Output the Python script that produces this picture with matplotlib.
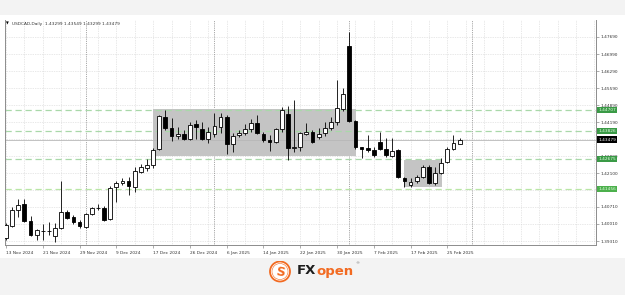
import matplotlib
matplotlib.use("Agg")
import matplotlib.pyplot as plt
import matplotlib.transforms as mtransforms
from matplotlib.patches import Rectangle, Circle
import numpy as np
import pandas as pd

# ---------------- data ----------------
dates = [
    "2024-11-13", "2024-11-14", "2024-11-15", "2024-11-18", "2024-11-19", "2024-11-20",
    "2024-11-21", "2024-11-22", "2024-11-25", "2024-11-26", "2024-11-27", "2024-11-28",
    "2024-11-29",
    "2024-12-02", "2024-12-03", "2024-12-04", "2024-12-05", "2024-12-06", "2024-12-09",
    "2024-12-10", "2024-12-11", "2024-12-12", "2024-12-13", "2024-12-16", "2024-12-17",
    "2024-12-18", "2024-12-19", "2024-12-20", "2024-12-23", "2024-12-24", "2024-12-26",
    "2024-12-27", "2024-12-30", "2024-12-31",
    "2025-01-02", "2025-01-03", "2025-01-06", "2025-01-07", "2025-01-08", "2025-01-09",
    "2025-01-10", "2025-01-13", "2025-01-14", "2025-01-15", "2025-01-16", "2025-01-17",
    "2025-01-20", "2025-01-21", "2025-01-22", "2025-01-23", "2025-01-24", "2025-01-27",
    "2025-01-28", "2025-01-29", "2025-01-30", "2025-01-31",
    "2025-02-03", "2025-02-04", "2025-02-05", "2025-02-06", "2025-02-07", "2025-02-10",
    "2025-02-11", "2025-02-12", "2025-02-13", "2025-02-14", "2025-02-17", "2025-02-18",
    "2025-02-19", "2025-02-20", "2025-02-21", "2025-02-24", "2025-02-25", "2025-02-26",
    "2025-02-27",
]

opens = [1.3943, 1.3992, 1.4058, 1.4083, 1.4013, 1.3955, 1.3974, 1.3972, 1.3951, 1.3984,
         1.4050, 1.4029, 1.4009, 1.3988, 1.4042, 1.4066, 1.4066, 1.4021, 1.4153, 1.4169,
         1.4177, 1.4153, 1.4214, 1.4231, 1.4243, 1.4309, 1.4440, 1.4395, 1.4362, 1.4370,
         1.4350, 1.4411, 1.4391, 1.4350, 1.4370, 1.4399, 1.4440, 1.4329, 1.4366, 1.4374,
         1.4391, 1.4415, 1.4370, 1.4346, 1.4337, 1.4391, 1.4452, 1.4315, 1.4317, 1.4370,
         1.4379, 1.4358, 1.4374, 1.4395, 1.4420, 1.4473, 1.4732, 1.4424, 1.4317, 1.4313,
         1.4305, 1.4337, 1.4309, 1.4280, 1.4305, 1.4189, 1.4161, 1.4177, 1.4194, 1.4235,
         1.4169, 1.4210, 1.4255, 1.4309, 1.43299]
highs = [1.4005, 1.4070, 1.4103, 1.4103, 1.4033, 1.3980, 1.4000, 1.4009, 1.4005, 1.4177,
         1.4058, 1.4037, 1.4017, 1.4046, 1.4070, 1.4083, 1.4074, 1.4157, 1.4177, 1.4189,
         1.4194, 1.4235, 1.4247, 1.4268, 1.4313, 1.4448, 1.4469, 1.4436, 1.4399, 1.4387,
         1.4420, 1.4428, 1.4420, 1.4399, 1.4457, 1.4457, 1.4448, 1.4374, 1.4387, 1.4411,
         1.4432, 1.4448, 1.4379, 1.4366, 1.4395, 1.4481, 1.4485, 1.4510, 1.4379, 1.4415,
         1.4387, 1.4395, 1.4420, 1.4440, 1.4592, 1.4559, 1.4789, 1.4428, 1.4317, 1.4366,
         1.4317, 1.4379, 1.4354, 1.4354, 1.4309, 1.4194, 1.4189, 1.4202, 1.4243, 1.4243,
         1.4235, 1.4272, 1.4317, 1.4366, 1.43549]
lows = [1.3935, 1.3988, 1.4029, 1.4009, 1.3951, 1.3935, 1.3935, 1.3955, 1.3926, 1.3982,
        1.4021, 1.4000, 1.3984, 1.3984, 1.4037, 1.4058, 1.4015, 1.4017, 1.4091, 1.4161,
        1.4120, 1.4132, 1.4210, 1.4218, 1.4231, 1.4305, 1.4387, 1.4341, 1.4350, 1.4346,
        1.4346, 1.4350, 1.4346, 1.4333, 1.4358, 1.4374, 1.4288, 1.4296, 1.4358, 1.4366,
        1.4379, 1.4370, 1.4337, 1.4300, 1.4333, 1.4379, 1.4263, 1.4296, 1.4300, 1.4366,
        1.4333, 1.4350, 1.4362, 1.4387, 1.4407, 1.4465, 1.4420, 1.4309, 1.4272, 1.4296,
        1.4276, 1.4305, 1.4276, 1.4276, 1.4189, 1.4153, 1.4153, 1.4169, 1.4189, 1.4165,
        1.4161, 1.4206, 1.4251, 1.4305, 1.43299]
closes = [1.3996, 1.4058, 1.4078, 1.4013, 1.3955, 1.3976, 1.3972, 1.3974, 1.3984, 1.4050,
          1.4025, 1.4009, 1.3992, 1.4042, 1.4066, 1.4068, 1.4017, 1.4148, 1.4169, 1.4177,
          1.4157, 1.4218, 1.4235, 1.4243, 1.4305, 1.4444, 1.4395, 1.4362, 1.4370, 1.4350,
          1.4407, 1.4399, 1.4350, 1.4379, 1.4403, 1.4440, 1.4329, 1.4362, 1.4374, 1.4391,
          1.4415, 1.4374, 1.4346, 1.4337, 1.4391, 1.4469, 1.4313, 1.4317, 1.4374, 1.4379,
          1.4337, 1.4370, 1.4395, 1.4420, 1.4477, 1.4535, 1.4424, 1.4317, 1.4309, 1.4305,
          1.4284, 1.4309, 1.4284, 1.4300, 1.4194, 1.4177, 1.4173, 1.4194, 1.4235, 1.4169,
          1.4210, 1.4251, 1.4309, 1.4333, 1.43479]

price_ticks = [1.47690, 1.46990, 1.46290, 1.45590, 1.44890, 1.44190, 1.43490,
               1.42800, 1.42100, 1.41400, 1.40710, 1.40010, 1.39310]
# labels hidden behind the price tags in the reference are left blank
price_tick_labels = ["1.47690", "1.46990", "1.46290", "1.45590", "1.44890", "1.44190",
                     "", "1.42800", "1.42100", "", "1.40710", "1.40010", "1.39310"]

level_prices = [1.44707, 1.43826, 1.42675, 1.41456]
level_labels = ["1.44707", "1.43826", "1.42675", "1.41456"]
current_price = 1.43479
current_label = "1.43479"

# consolidation zones: (start date, end date, low, high)
zone_starts = ["2024-12-17", "2025-02-14"]
zone_ends = ["2025-02-04", "2025-02-24"]
zone_lows = [1.4280, 1.4153]
zone_highs = [1.4473, 1.4263]

title_text = "USDCAD,Daily  1.43299 1.43549 1.43299 1.43479"

# ---------------- figure ----------------
W, H = 625, 295
fig = plt.figure(figsize=(W / 100, H / 100), dpi=100, facecolor="white")
# light grey strips above and below the terminal window
fig.patches.append(Rectangle((0, 1 - 15 / H), 1, 15 / H, transform=fig.transFigure,
                             facecolor="#f3f3f3", edgecolor="none", zorder=-10))
fig.patches.append(Rectangle((0, 0), 1, (H - 258) / H, transform=fig.transFigure,
                             facecolor="#f3f3f3", edgecolor="none", zorder=-10))

ax = fig.add_axes([5 / W, 1 - 245 / H, (596 - 5) / W, (245 - 20) / H])
ax.set_facecolor("white")

n = len(dates)
x = np.arange(n)
o = np.array(opens); h = np.array(highs); l = np.array(lows); c = np.array(closes)
dt = pd.to_datetime(dates)
idx = {d: i for i, d in enumerate(dates)}

ax.set_xlim(-0.163, 96.25)
ax.set_ylim(1.39146, 1.48388)

# grid
for p in price_ticks:
    ax.axhline(p, color="#d2d2d2", lw=0.5, ls=(0, (1, 1.5)), zorder=0.5)
for g in range(0, 97, 3):
    ax.axvline(g, color="#d2d2d2", lw=0.5, ls=(0, (1, 1.5)), zorder=0.5)

# month separators (first bar of each month + next month)
seps = [i for i in range(1, n) if dt[i].month != dt[i - 1].month] + [n + 1]
for s in seps:
    ax.axvline(s, color="#8a8a8a", lw=0.6, ls=(0, (1, 1.2)), zorder=0.8)

# zones
for s, e, lo, hi in zip(zone_starts, zone_ends, zone_lows, zone_highs):
    xs = idx[s]
    xe = idx[e] + 0.1
    ax.add_patch(Rectangle((xs, lo), xe - xs, hi - lo, facecolor="#c4c4c4",
                           edgecolor="none", zorder=1))

# horizontal levels
for i, p in enumerate(level_prices):
    col = "#a9d8a9" if i < 3 else "#b9e6a6"
    ax.axhline(p, color=col, lw=0.9, ls=(0, (5, 3)), zorder=2)
ax.axhline(current_price, color="#b8b8b8", lw=0.6, zorder=2)

# candles
ax.vlines(x, l, h, color="black", lw=0.6, zorder=3)
body_lo = np.minimum(o, c)
body_h = np.maximum(np.abs(c - o), 0.00008)
colors = ["white" if cc >= oo else "black" for oo, cc in zip(o, c)]
ax.bar(x, body_h, bottom=body_lo, width=0.62, color=colors, edgecolor="black",
       linewidth=0.6, zorder=4)

# axes styling
for sp in ax.spines.values():
    sp.set_color("#8c8c8c")
    sp.set_linewidth(0.7)
ax.spines["top"].set_visible(False)

ax.yaxis.tick_right()
ax.set_yticks(price_ticks)
ax.set_yticklabels(price_tick_labels)
ax.tick_params(axis="y", length=2, width=0.5, pad=1.5, labelsize=3.1,
               colors="#8c8c8c", labelcolor="#333333")

tick_pos = list(range(0, n, 6))
tick_labels = [f"{dt[i].day} {dt[i]:%b %Y}" for i in tick_pos]
ax.set_xticks(tick_pos)
ax.set_xticklabels(tick_labels, ha="left")
ax.tick_params(axis="x", length=2, width=0.5, pad=2.5, labelsize=3.1,
               colors="#8c8c8c", labelcolor="#333333")

# right-side price tags
trans = mtransforms.blended_transform_factory(ax.transAxes, ax.transData)
tag_cols = ["#3a9a46", "#3a9a46", "#3a9a46", "#4cb04c"]
for p, lab, col in zip(level_prices, level_labels, tag_cols):
    ax.text(1.004, p, lab, transform=trans, fontsize=3.1, color="#e8ffe8",
            va="center", ha="left", clip_on=False, zorder=10,
            bbox=dict(boxstyle="square,pad=0.25", fc=col, ec="none"))
ax.text(1.004, current_price, current_label, transform=trans, fontsize=3.1,
        color="white", va="center", ha="left", clip_on=False, zorder=11,
        bbox=dict(boxstyle="square,pad=0.25", fc="black", ec="none"))

# title
fig.text(6 / W, 1 - 23.5 / H, "\u25BC", fontsize=2.6, color="black", va="center", ha="left")
fig.text(12.5 / W, 1 - 23.5 / H, title_text, fontsize=3.1, color="#333333",
         va="center", ha="left")

# ---------------- logo ----------------
lax = fig.add_axes([269 / W, 1 - 282.5 / H, 22 / W, 22 / H])
lax.set_xlim(-1.1, 1.1); lax.set_ylim(-1.1, 1.1); lax.set_aspect("equal"); lax.axis("off")
orange = "#f26a21"
lax.add_patch(Circle((0, 0), 1.0, fc="white", ec=orange, lw=1.3))
lax.add_patch(Circle((0, 0), 0.8, fc="none", ec=orange, lw=0.4))
lax.text(0.02, -0.05, "S", fontsize=9, fontweight="bold", color=orange,
         ha="center", va="center", rotation=-10)

fig.text(297 / W, 1 - 271 / H, "FX", fontsize=9.5, fontweight="bold", color="#1e1e1e",
         va="center", ha="left")
fig.text(316 / W, 1 - 271 / H, "open", fontsize=9.5, fontweight="bold", color=orange,
         va="center", ha="left")
fig.text(355 / W, 1 - 263 / H, "\u00AE", fontsize=3, color="#777777", va="center", ha="left")

fig.savefig("out.png", dpi=100, facecolor=fig.get_facecolor())
